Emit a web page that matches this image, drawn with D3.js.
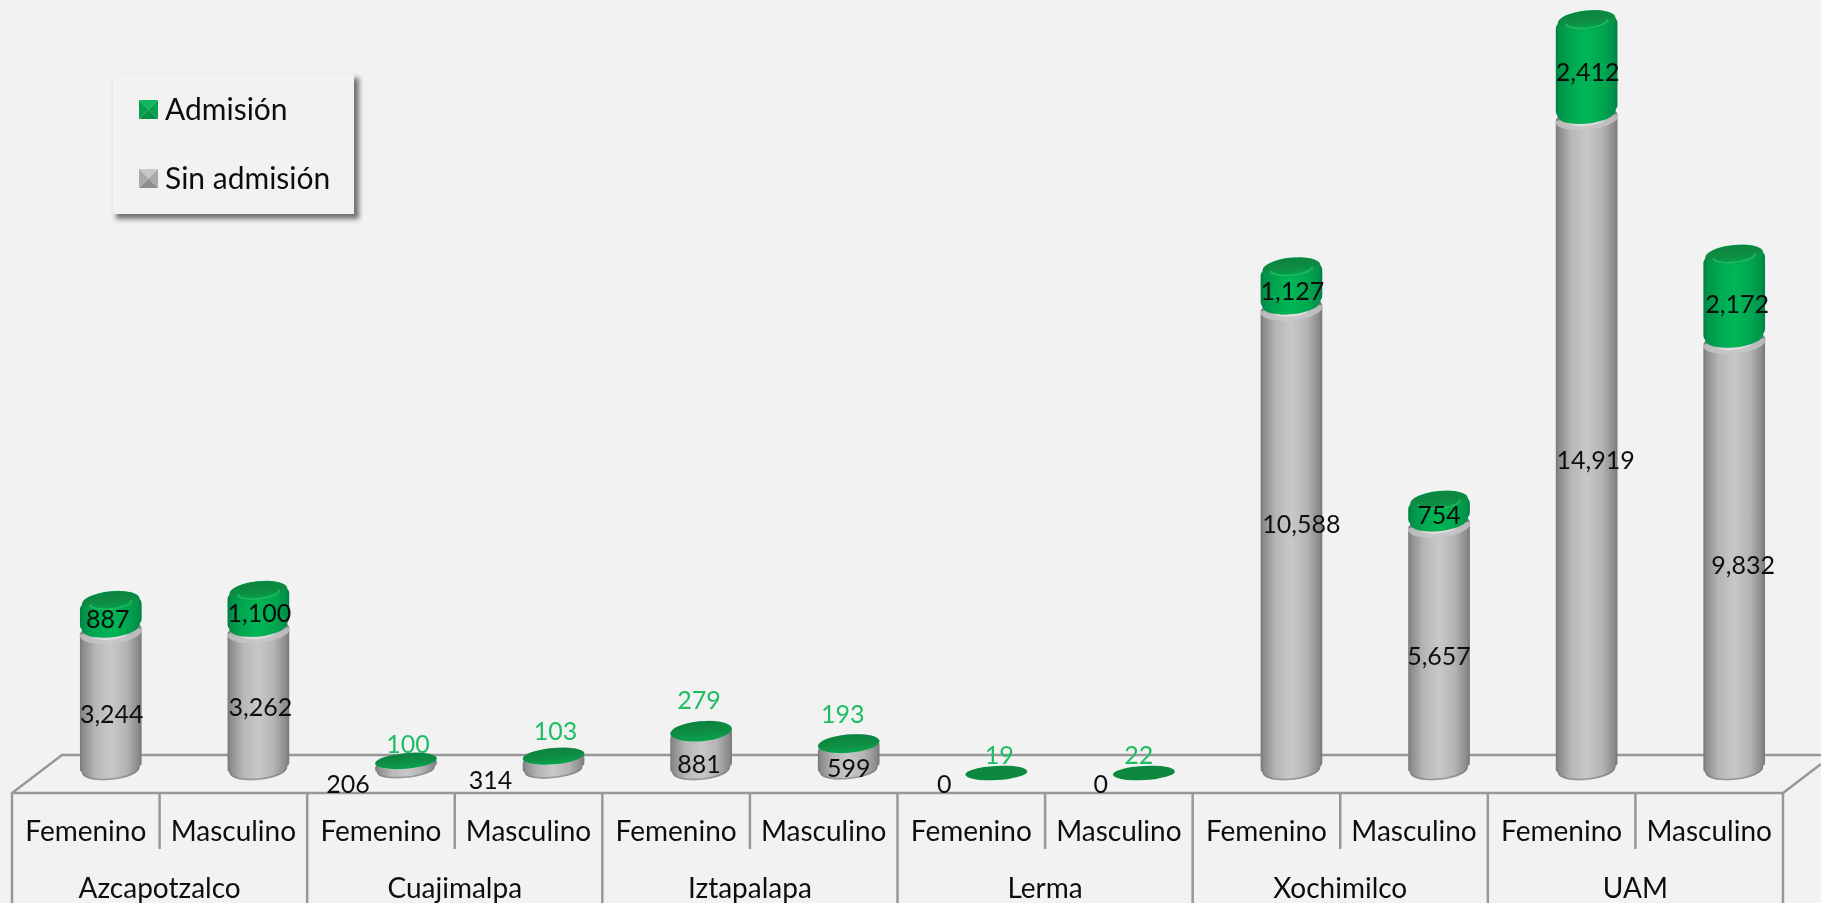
<!DOCTYPE html>
<html><head><meta charset="utf-8">
<script src="https://cdn.jsdelivr.net/npm/d3@7"></script>
<style>html,body{margin:0;padding:0;background:#f2f2f2;overflow:hidden}svg{display:block}text{font-family:Lato,"Open Sans",sans-serif;fill:#111}</style>
</head><body>
<svg id="c" width="1821" height="903"></svg>
<script>
const campuses = ["Azcapotzalco","Cuajimalpa","Iztapalapa","Lerma","Xochimilco","UAM"];
const genders = ["Femenino","Masculino"];
const sinAdmision = [3244,3262,206,314,881,599,0,0,10588,5657,14919,9832];
const admision = [887,1100,100,103,279,193,19,22,1127,754,2412,2172];
const seriesNames = ["Admisión","Sin admisión"];
// hand-placed label offsets of the original data labels
const grayNudgeX = [1,2,-58,-63,-2,0,-52,-43,10,0,9,9];
const grayNudgeY = [14,8,18,16,12,10,13,13,-14,9,17,10];
const greenNudgeX = [-3,1,2,2,-2,-6,3,-5,1,0,1,3];
const greenNudgeY = [10,10,-16,-24,-26,-26,-16,-16,11,9,10,13];

const W=1821,H=903,fmt=d3.format(",");
const floorFront=793,floorBack=755,left=12,right=1783,depthX=50,depthY=38;
const svg=d3.select("#c");
const defs=svg.append("defs");
const blur=defs.append("filter").attr("id","soft").attr("filterUnits","userSpaceOnUse")
  .attr("x",0).attr("y",0).attr("width",W).attr("height",H);
blur.append("feGaussianBlur").attr("stdDeviation",0.55);
const shadow=defs.append("filter").attr("id","sh").attr("x","-10%").attr("y","-10%").attr("width","125%").attr("height","130%");
shadow.append("feGaussianBlur").attr("stdDeviation",2.5);

function grad(id,stops,vertical){
  const g=defs.append("linearGradient").attr("id",id).attr("x1",0).attr("y1",0)
    .attr("x2",vertical?0:1).attr("y2",vertical?1:0);
  stops.forEach(s=>g.append("stop").attr("offset",s[0]).attr("stop-color",s[1]));
}
grad("graySide",[[0,"#787878"],[.05,"#8c8c8c"],[.25,"#b6b6b6"],[.5,"#c8c8c8"],[.75,"#b4b4b4"],[.95,"#8a8a8a"],[1,"#757575"]]);
grad("greenSide",[[0,"#067c3b"],[.05,"#06914a"],[.25,"#03a851"],[.5,"#00b655"],[.75,"#03a851"],[.95,"#06914a"],[1,"#067c3b"]]);
grad("greenCap",[[0,"#078340"],[.6,"#088f44"],[1,"#06a64e"]],true);
grad("grayBand",[[0,"#b8b8b8"],[.7,"#c9c9c9"],[1,"#d6d6d6"]],true);

const root=svg.append("g").attr("filter","url(#soft)");
root.append("rect").attr("width",W).attr("height",H).attr("fill","#f2f2f2");

const n=sinAdmision.length;
const idx=d3.range(n);
const labels=campuses.flatMap(c=>genders.map(g=>c+"|"+g));
const xFront=d3.scaleBand().domain(labels).range([left,right]);
const xGroup=d3.scaleBand().domain(campuses).range([left,right]);
const xBar=d3.scaleBand().domain(labels).range([left+depthX/2,right+depthX/2]);
const y=d3.scaleLinear().domain([0,20000]).range([770,770-880]);
const ry=d3.scaleLinear().domain([0,1100]).range([7,10]).clamp(true);
const rx=31,tilt=-6,rad=-tilt*Math.PI/180,capOverlap=13;
const sn=Math.sin(rad),cs=Math.cos(rad);

// floor and category frame
const line="#989898";
const fl=root.append("g").attr("stroke",line).attr("stroke-width",2.5).attr("fill","none");
fl.append("path").attr("d",d3.line()([[left,H],[left,floorFront],[left+depthX,floorBack],[W,floorBack]]));
fl.append("path").attr("d",d3.line()([[left,floorFront],[right,floorFront],[W,floorFront-(W-right)*depthY/depthX]]));
fl.append("path").attr("d",d3.line()([[right,floorFront],[right,H]]));
campuses.forEach(c=>{
  const x0=xGroup(c);
  if(x0>left) fl.append("line").attr("x1",x0).attr("x2",x0).attr("y1",floorFront).attr("y2",H);
  const xm=x0+xGroup.bandwidth()/2;
  fl.append("line").attr("x1",xm).attr("x2",xm).attr("y1",floorFront).attr("y2",849);
});

// category axes
const axis1=root.append("g").attr("transform","translate(0,"+floorFront+")")
  .call(d3.axisBottom(xFront).tickSize(0).tickPadding(0).tickFormat(d=>d.split("|")[1]));
const axis2=root.append("g").attr("transform","translate(0,"+floorFront+")")
  .call(d3.axisBottom(xGroup).tickSize(0).tickPadding(0));
axis1.select(".domain").remove();axis2.select(".domain").remove();
[axis1,axis2].forEach((a,k)=>a.selectAll("text").attr("y",k?94:37).attr("dy",null)
  .attr("dominant-baseline","central").attr("font-size",28).style("font-family","Lato").attr("fill","#111"));

// rounded-shoulder cylinder: top centre yt, bottom centre yb
function body(cx,yb,yt,R,bevelTop,bevelBot){
  const b=2,r0=rx-b;
  const dx=r0*cs,d=r0*sn,ox=rx*cs,od=rx*sn;
  const st=Math.min(bevelTop,Math.max(0,(yb-yt)/2)),sb=Math.min(bevelBot,Math.max(0,(yb-yt)/2));
  return `M${cx-ox},${yb+od-sb}L${cx-ox},${yt+od+st}C${cx-ox},${yt+od+st/3} ${cx-dx-.5},${yt+d+2} ${cx-dx},${yt+d}`+
    `A${r0},${R} ${tilt} 0 1 ${cx+dx},${yt-d}C${cx+dx+.5},${yt-d+2} ${cx+ox},${yt-od+st/3} ${cx+ox},${yt-od+st}`+
    `L${cx+ox},${yb-od-sb}C${cx+ox},${yb-od-sb/3} ${cx+dx+.5},${yb-d-2} ${cx+dx},${yb-d}`+
    `A${r0},${R} ${tilt} 0 1 ${cx-dx},${yb+d}C${cx-dx-.5},${yb+d-2} ${cx-ox},${yb+od-sb/3} ${cx-ox},${yb+od-sb}Z`;
}
// shallow front rim highlight, its depth scaled to its width
function frontArc(cx,yc,R,inset){
  const r0=rx-inset,R0=R*r0/rx;
  return `M${cx-r0*cs},${yc+r0*sn}A${r0},${R0} ${tilt} 0 0 ${cx+r0*cs},${yc-r0*sn}`;
}

const bars=root.append("g");
idx.forEach(i=>{
  const cx=xBar(labels[i])+xBar.bandwidth()/2;
  const g0=sinAdmision[i],a0=admision[i];
  const R=ry(g0+a0),yb=y(0),yg=y(g0);
  const h=y(0)-y(a0);
  const yTop=yg-Math.max(0,h-capOverlap);
  const G=bars.append("g");
  if(g0>0){
    G.append("path").attr("d",body(cx,yb,yg,R,5,4)).attr("fill","url(#graySide)");
    G.append("path").attr("d",frontArc(cx,yb,R,3)).attr("fill","none").attr("stroke","#7a7a7a").attr("stroke-width",1.6).attr("opacity",.6);
    if(g0>1500){
      G.append("path").attr("d",frontArc(cx,yg+4,R,2)).attr("fill","none").attr("stroke","#c8c8c8").attr("stroke-width",6).attr("opacity",.75);
      G.append("path").attr("d",frontArc(cx,yg+6,R,14)).attr("fill","none").attr("stroke","#dedede").attr("stroke-width",2);
    } else {
      G.append("ellipse").attr("cx",cx).attr("cy",yg).attr("rx",rx-1).attr("ry",R)
        .attr("transform",`rotate(${tilt} ${cx} ${yg})`).attr("fill","url(#grayBand)");
    }
  }
  if(yTop<yg-0.5){
    G.append("path").attr("d",body(cx,yg,yTop,R,6,6)).attr("fill","url(#greenSide)");
    G.append("ellipse").attr("cx",cx).attr("cy",yTop).attr("rx",rx-2.5).attr("ry",R-.5)
      .attr("transform",`rotate(${tilt} ${cx} ${yTop})`).attr("fill","url(#greenCap)");
    G.append("path").attr("d",frontArc(cx,yTop+1,R,10)).attr("fill","none").attr("stroke","#14ba5e").attr("stroke-width",2);
  } else {
    // almost empty segment: only a flat disc
    const yc=g0>0?yg:yg+3, tl=g0>0?-5:-3;
    G.append("ellipse").attr("cx",cx).attr("cy",yc).attr("rx",rx).attr("ry",R)
      .attr("transform",`rotate(${tl} ${cx} ${yc})`).attr("fill",g0>0?"url(#greenCap)":"#0a883f");
  }
});

// data labels
const lab=root.append("g").attr("font-size",25).attr("text-anchor","middle");
idx.forEach(i=>{
  const cx=xBar(labels[i])+xBar.bandwidth()/2;
  lab.append("text").attr("x",cx+grayNudgeX[i]).attr("y",y(sinAdmision[i]/2)+grayNudgeY[i])
    .attr("dominant-baseline","central").text(fmt(sinAdmision[i]));
  lab.append("text").attr("x",cx+greenNudgeX[i]).attr("y",y(sinAdmision[i]+admision[i]/2)+greenNudgeY[i])
    .attr("dominant-baseline","central").style("fill",admision[i]<500?"#1fbd63":"#0a0a0a").text(fmt(admision[i]));
});

// legend
const lg=root.append("g");
lg.append("rect").attr("x",116).attr("y",78).attr("width",243).attr("height",141).attr("fill","#2e2e2e").attr("opacity",.65).attr("filter","url(#sh)");
lg.append("rect").attr("x",113).attr("y",74).attr("width",241).attr("height",140).attr("fill","#f2f2f2");
const legendTones=[["#0ab55b","#05a050","#068f46","#05a050"],["#c8c8c8","#aaaaaa","#8e8e8e","#aaaaaa"]];
seriesNames.forEach((s,k)=>{
  const x0=139,y0=k?169:100,sz=19,mx=x0+sz/2,my=y0+sz/2,t=legendTones[k];
  [[[x0,y0],[x0+sz,y0]],[[x0+sz,y0],[x0+sz,y0+sz]],[[x0+sz,y0+sz],[x0,y0+sz]],[[x0,y0+sz],[x0,y0]]].forEach((e,j)=>{
    lg.append("path").attr("d",d3.line()([e[0],e[1],[mx,my]])+"Z").attr("fill",t[j]);
  });
  lg.append("text").attr("x",165).attr("y",k?189:120).attr("font-size",30).text(s);
});
</script>
</body></html>
